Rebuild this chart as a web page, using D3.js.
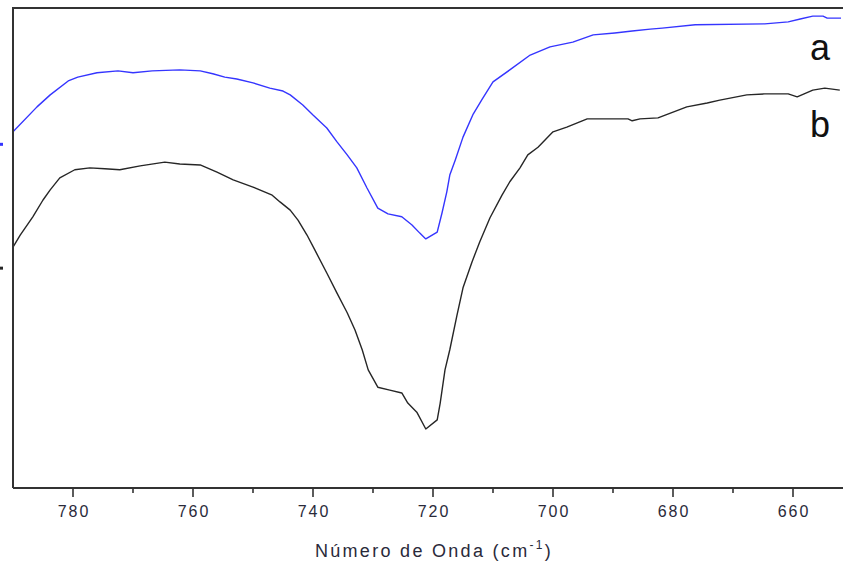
<!DOCTYPE html>
<html>
<head>
<meta charset="utf-8">
<script src="https://cdn.jsdelivr.net/npm/d3@7"></script>
<style>
  html, body { margin: 0; padding: 0; background: #fff; }
  svg { display: block; }
  text { font-family: Arial, "Liberation Sans", sans-serif; }
</style>
</head>
<body>
<svg id="chart" width="843" height="563"></svg>
<script>
// FTIR spectra, 790-650 cm-1 region (transmittance, arbitrary units)
const wavenumberA = [790.0, 786.0, 783.8, 780.8, 779.2, 776.0, 772.5, 770.0, 766.8, 762.2,
  758.8, 756.7, 754.7, 752.7, 750.0, 747.2, 745.0, 743.8, 741.7, 740.0,
  737.7, 736.0, 734.3, 732.7, 731.0, 729.2, 727.5, 725.2, 723.5, 722.2,
  721.2, 719.3, 718.5, 717.7, 717.2, 716.3, 715.0, 713.3, 711.8, 710.0,
  707.2, 703.8, 700.5, 696.7, 693.3, 689.7, 686.8, 683.8, 681.8, 676.3,
  664.7, 660.8, 658.8, 656.7, 655.0, 654.3, 652.0];
const transA = [74.2, 79.4, 81.9, 84.8, 85.6, 86.5, 86.9, 86.5, 86.9, 87.1,
  86.9, 86.3, 85.6, 85.2, 84.4, 83.3, 82.7, 81.9, 79.8, 77.7,
  75.0, 72.1, 69.4, 66.7, 62.5, 58.3, 57.1, 56.5, 54.8, 53.1,
  51.9, 53.3, 57.3, 61.7, 65.2, 68.3, 73.1, 77.9, 81.0, 84.6,
  87.1, 90.2, 91.9, 92.9, 94.4, 94.8, 95.2, 95.6, 95.8, 96.5,
  96.7, 97.1, 97.7, 98.3, 98.3, 97.9, 97.9];

const wavenumberB = [790.0, 788.8, 786.7, 785.0, 783.8, 782.2, 779.7, 777.2, 774.7, 772.2,
  768.8, 764.7, 762.2, 758.8, 756.0, 753.3, 750.0, 746.8, 745.5, 743.8,
  742.5, 741.0, 739.7, 737.7, 736.0, 734.3, 733.0, 731.8, 730.8, 729.2,
  727.2, 725.2, 724.2, 722.7, 721.2, 719.3, 718.8, 718.0, 717.2, 716.0,
  715.0, 713.5, 712.2, 710.5, 708.5, 707.2, 705.5, 704.2, 702.5, 700.0,
  697.7, 694.3, 687.5, 686.8, 685.5, 682.5, 681.3, 677.7, 674.3, 672.2,
  667.7, 664.7, 660.8, 659.3, 656.7, 654.7, 652.2];
const transB = [50.2, 52.7, 56.5, 60.0, 62.1, 64.6, 66.3, 66.7, 66.5, 66.3,
  67.1, 67.9, 67.5, 67.3, 65.8, 64.2, 62.7, 61.0, 59.6, 57.9,
  55.8, 52.7, 49.6, 44.8, 40.6, 36.5, 32.9, 28.8, 24.6, 21.0,
  20.4, 19.8, 17.7, 15.8, 12.3, 14.2, 17.7, 24.6, 28.8, 36.0,
  41.7, 47.1, 51.3, 56.3, 61.0, 63.8, 66.7, 69.4, 71.0, 74.2,
  75.2, 76.9, 76.9, 76.5, 76.9, 77.1, 77.7, 79.4, 80.2, 80.8,
  81.9, 82.1, 82.1, 81.5, 82.9, 83.3, 82.9];

const seriesNames = ["a", "b"];
const seriesColors = ["#3535ff", "#262626"];
const labelLevels = [89.2, 73.1];      // vertical placement of the series letters
const offsetMarks = [71.6, 45.8];      // small baseline markers on the left edge

const majorTicks = [780, 760, 740, 720, 700, 680, 660];
const minorTicks = [770, 750, 730, 710, 690, 670];
const xTitle = "Número de Onda (cm";
const xTitleSup = "-1";

const svg = d3.select("#chart");
const plotLeft = 13, plotRight = 853, plotTop = 8, plotBottom = 488;

const x = d3.scaleLinear().domain([790, 650]).range([plotLeft, plotRight]);
const y = d3.scaleLinear().domain([0, 100]).range([plotBottom, plotTop]);

svg.append("defs").append("clipPath").attr("id", "plot")
  .append("rect").attr("x", plotLeft).attr("y", plotTop)
  .attr("width", plotRight - plotLeft).attr("height", plotBottom - plotTop);

const series = [
  wavenumberA.map((w, i) => [w, transA[i]]),
  wavenumberB.map((w, i) => [w, transB[i]])
];

const line = d3.line().x(d => x(d[0])).y(d => y(d[1]));

svg.append("g").attr("clip-path", "url(#plot)")
  .selectAll("path").data(series).join("path")
  .attr("d", line)
  .attr("fill", "none")
  .attr("stroke", (d, i) => seriesColors[i])
  .attr("stroke-width", 1.4)
  .attr("stroke-linejoin", "round");

// frame: left spine and top border
svg.append("path")
  .attr("d", `M${plotLeft},${plotBottom}V${plotTop}H${plotRight}`)
  .attr("fill", "none").attr("stroke", "#333").attr("stroke-width", 2);

// bottom axis
const axis = svg.append("g").attr("transform", `translate(0,${plotBottom})`);
axis.append("line").attr("x1", plotLeft).attr("x2", plotRight)
  .attr("stroke", "#333").attr("stroke-width", 2);
axis.selectAll("line.major").data(majorTicks).join("line")
  .attr("class", "major")
  .attr("x1", d => x(d)).attr("x2", d => x(d))
  .attr("y1", 0).attr("y2", 9)
  .attr("stroke", "#333").attr("stroke-width", 1.6);
axis.selectAll("line.minor").data(minorTicks).join("line")
  .attr("class", "minor")
  .attr("x1", d => x(d)).attr("x2", d => x(d))
  .attr("y1", 0).attr("y2", 5)
  .attr("stroke", "#333").attr("stroke-width", 1.6);
axis.selectAll("text").data(majorTicks).join("text")
  .attr("x", d => x(d) + 1).attr("y", 29)
  .attr("text-anchor", "middle")
  .attr("font-size", 16)
  .attr("letter-spacing", 2)
  .attr("fill", "#2a2a3a")
  .text(d => d);

// axis title with superscript
const title = svg.append("text")
  .attr("x", x(720) + 1).attr("y", 557)
  .attr("text-anchor", "middle")
  .attr("font-size", 18)
  .attr("letter-spacing", 2.3)
  .attr("fill", "#2a2a3a");
title.append("tspan").text(xTitle);
title.append("tspan").attr("font-size", 12).attr("dy", -8).text(xTitleSup);
title.append("tspan").attr("dy", 8).text(")");

// series letters
svg.selectAll("text.series").data(seriesNames).join("text")
  .attr("class", "series")
  .attr("x", 820).attr("y", (d, i) => y(labelLevels[i]))
  .attr("text-anchor", "middle")
  .attr("font-size", 36)
  .attr("fill", "#111")
  .text(d => d);

// left-edge offset markers
svg.selectAll("rect.mark").data(offsetMarks).join("rect")
  .attr("class", "mark")
  .attr("x", 0).attr("y", d => y(d) - 1.5)
  .attr("width", 3).attr("height", 3)
  .attr("fill", (d, i) => seriesColors[i]);
</script>
</body>
</html>
